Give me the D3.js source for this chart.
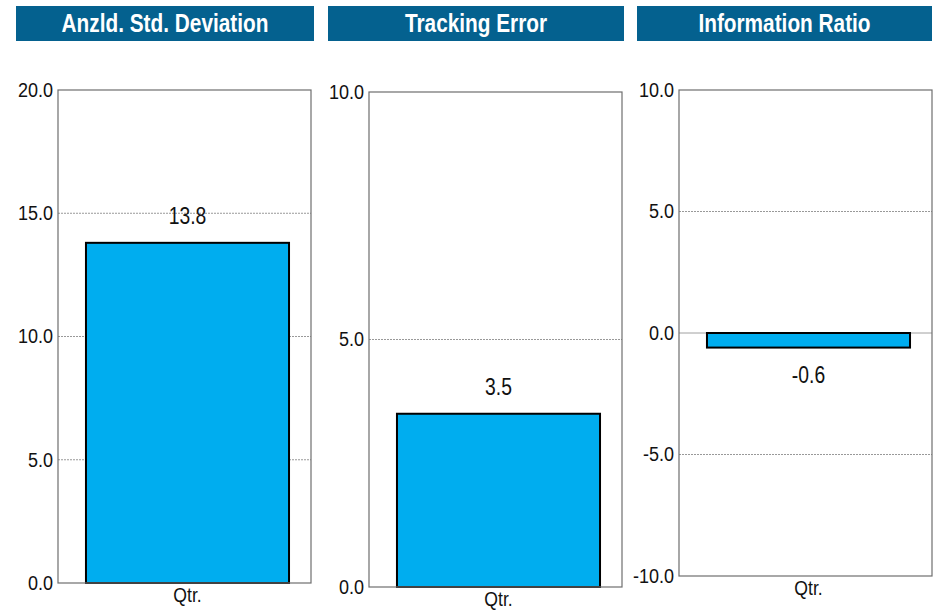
<!DOCTYPE html>
<html>
<head>
<meta charset="utf-8">
<script src="https://cdn.jsdelivr.net/npm/d3@7/dist/d3.min.js"></script>
<style>
  html, body { margin: 0; padding: 0; background: #ffffff; }
  svg { display: block; font-family: "Liberation Sans", Arial, sans-serif; }
</style>
</head>
<body>
<svg id="chart" width="935" height="610"></svg>
<script>
// Risk statistics, one small panel per measure
const titles = ["Anzld. Std. Deviation", "Tracking Error", "Information Ratio"];
const categories = ["Qtr."];
const values = [13.8, 3.5, -0.6];
const yDomains = [[0, 20], [0, 10], [-10, 10]];
const tickValues = [[0, 5, 10, 15, 20], [0, 5, 10], [-10, -5, 0, 5, 10]];

// Panel geometry (header box and plot frame, in pixels)
const layout = [
  { hx0: 16,  hx1: 314, px0: 58,  px1: 311, py0: 90, py1: 583 },
  { hx0: 328, hx1: 624, px0: 369, px1: 622, py0: 92, py1: 587 },
  { hx0: 637, hx1: 932, px0: 679, px1: 932, py0: 90, py1: 576 }
];

const headerColor = "#04618f";
const barColor = "#00adef";
const fmt = v => d3.format(".1f")(v).replace("\u2212", "-");

// Narrow the glyphs of a text element by a factor, keeping its anchor
function narrow(sel, k) {
  sel.each(function () {
    d3.select(this)
      .attr("textLength", this.getComputedTextLength() * k)
      .attr("lengthAdjust", "spacingAndGlyphs");
  });
}

const svg = d3.select("#chart");

titles.forEach((title, i) => {
  const L = layout[i];
  const g = svg.append("g");

  // Header bar with title
  g.append("rect")
    .attr("x", L.hx0).attr("y", 6)
    .attr("width", L.hx1 - L.hx0).attr("height", 35)
    .attr("fill", headerColor);
  g.append("text")
    .attr("x", (L.hx0 + L.hx1) / 2).attr("y", 32)
    .attr("text-anchor", "middle")
    .attr("font-size", 26).attr("font-weight", "bold")
    .attr("fill", "#ffffff")
    .text(title)
    .call(narrow, 0.8);

  const x = d3.scaleBand()
    .domain(categories)
    .range([L.px0, L.px1])
    .paddingInner(0)
    .paddingOuter(0.123)
    .align(0.56);
  const y = d3.scaleLinear()
    .domain(yDomains[i])
    .range([L.py1, L.py0]);

  // Gridlines: dashed at interior ticks, solid at zero when it sits inside
  const interior = tickValues[i].filter(v => v !== yDomains[i][0] && v !== yDomains[i][1]);
  g.append("g").selectAll("line")
    .data(interior)
    .join("line")
    .attr("x1", L.px0).attr("x2", L.px1)
    .attr("y1", d => y(d)).attr("y2", d => y(d))
    .attr("stroke", d => d === 0 ? "#a0a0a0" : "#999999")
    .attr("stroke-width", 1)
    .attr("stroke-dasharray", d => d === 0 ? null : "2,1");

  // Y axis labels
  const yAxis = d3.axisLeft(y)
    .tickValues(tickValues[i])
    .tickFormat(fmt)
    .tickSize(0)
    .tickPadding(5);
  const ag = g.append("g")
    .attr("transform", `translate(${L.px0},0)`)
    .call(yAxis);
  ag.select(".domain").remove();
  ag.selectAll("text")
    .attr("font-size", 20)
    .attr("font-family", "Liberation Sans, Arial, sans-serif")
    .attr("fill", "#111111")
    .call(narrow, 0.9);

  // Bars
  const yZero = y(0);
  g.append("g").selectAll("rect")
    .data(categories.map(c => ({ cat: c, value: values[i] })))
    .join("rect")
    .attr("x", d => x(d.cat))
    .attr("width", x.bandwidth())
    .attr("y", d => Math.min(y(d.value), yZero))
    .attr("height", d => Math.abs(y(d.value) - yZero))
    .attr("fill", barColor)
    .attr("stroke", "#000000")
    .attr("stroke-width", 2);

  // Plot frame
  g.append("rect")
    .attr("x", L.px0).attr("y", L.py0)
    .attr("width", L.px1 - L.px0).attr("height", L.py1 - L.py0)
    .attr("fill", "none")
    .attr("stroke", "#6e6e6e")
    .attr("stroke-width", 1.2);

  // Value labels
  g.append("g").selectAll("text")
    .data(categories.map(c => ({ cat: c, value: values[i] })))
    .join("text")
    .attr("x", d => x(d.cat) + x.bandwidth() / 2)
    .attr("y", d => d.value >= 0 ? y(d.value) - 19 : y(d.value) + 35)
    .attr("text-anchor", "middle")
    .attr("font-size", 23)
    .attr("fill", "#111111")
    .text(d => fmt(d.value))
    .call(narrow, 0.84);

  // Category label
  g.append("g").selectAll("text")
    .data(categories)
    .join("text")
    .attr("x", d => x(d) + x.bandwidth() / 2)
    .attr("y", L.py1 + 19)
    .attr("text-anchor", "middle")
    .attr("font-size", 20)
    .attr("fill", "#111111")
    .text(d => d)
    .call(narrow, 0.88);
});
</script>
</body>
</html>
